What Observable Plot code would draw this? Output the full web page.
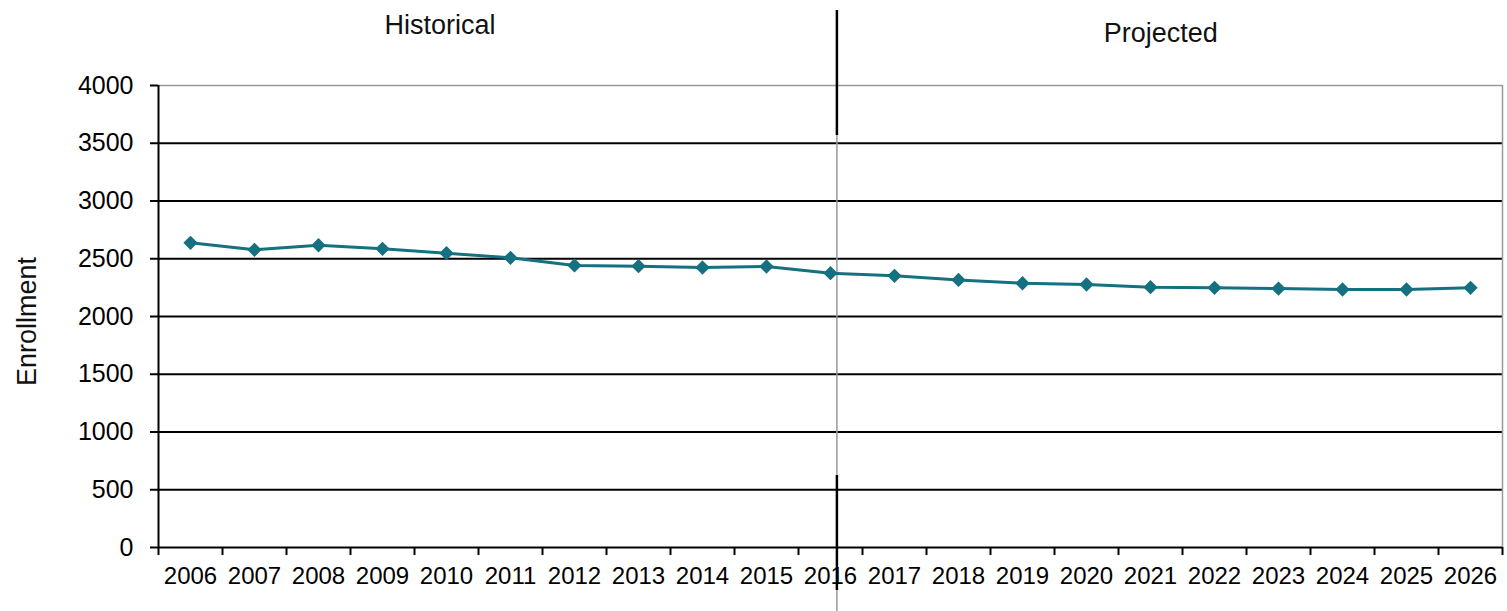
<!DOCTYPE html>
<html>
<head>
<meta charset="utf-8">
<script src="https://cdn.jsdelivr.net/npm/d3@7"></script>
<script src="https://cdn.jsdelivr.net/npm/@observablehq/plot@0.6"></script>
<style>
  html, body { margin: 0; padding: 0; background: #fff; }
  svg { display: block; }
</style>
</head>
<body>
<div id="chart"></div>
<script>
const years = [2006,2007,2008,2009,2010,2011,2012,2013,2014,2015,2016,2017,2018,2019,2020,2021,2022,2023,2024,2025,2026];
const enrollment = [2638,2577,2617,2586,2548,2508,2442,2436,2424,2433,2375,2352,2317,2288,2277,2254,2248,2242,2234,2234,2248];
const yTicks = [0,500,1000,1500,2000,2500,3000,3500,4000];
const gridValues = [500,1000,1500,2000,2500,3000,3500];
const sectionLabels = [
  {text: "Historical", x: 2009.9, y: 4520},
  {text: "Projected", x: 2021.16, y: 4450}
];
const dividerYear = 2016.1;
const dividerBlack = [{y1: 3567, y2: 4649}, {y1: -372, y2: 623}];
const dividerGrey = [{y1: -560, y2: 4649}];

const data = years.map((y, i) => ({year: y, value: enrollment[i]}));
const xDomain = [years[0] - 0.5, years[years.length - 1] + 0.5];
const boundaries = d3.range(years[0] - 0.5, years[years.length - 1] + 1, 1);

const teal = "#15717f";

const chart = Plot.plot({
  width: 1507,
  height: 611,
  marginLeft: 158,
  marginRight: 5,
  marginTop: 85,
  marginBottom: 64,
  style: {fontFamily: "'Liberation Sans', Arial, sans-serif", background: "#fff", color: "#000"},
  x: {type: "linear", domain: xDomain},
  y: {domain: [0, 4000]},
  marks: [
    Plot.ruleY(gridValues, {stroke: "#000", strokeWidth: 2}),
    Plot.ruleY([4000], {stroke: "#999", strokeWidth: 1.5}),
    Plot.ruleX([xDomain[1]], {y1: 0, y2: 4000, stroke: "#999", strokeWidth: 1.5}),
    Plot.ruleX(dividerGrey, {x: () => dividerYear, y1: "y1", y2: "y2", stroke: "#999", strokeWidth: 1.5}),
    Plot.ruleX(dividerBlack, {x: () => dividerYear, y1: "y1", y2: "y2", stroke: "#000", strokeWidth: 2.5}),
    Plot.axisY({ticks: yTicks, tickSize: 8, tickPadding: 17, fontSize: 25, tickFormat: d => String(d), label: null, stroke: "#000", strokeWidth: 2}),
    Plot.axisX({ticks: boundaries, tickSize: 8, tickFormat: () => "", label: null, strokeWidth: 2}),
    Plot.axisX({ticks: years, tickSize: 0, tickPadding: 19, fontSize: 24, tickFormat: d => String(d), label: null}),
    Plot.ruleX([xDomain[0]], {y1: 0, y2: 4000, stroke: "#000", strokeWidth: 2}),
    Plot.ruleY([0], {stroke: "#000", strokeWidth: 2}),
    Plot.line(data, {x: "year", y: "value", stroke: teal, strokeWidth: 3}),
    Plot.dot(data, {x: "year", y: "value", symbol: "diamond2", r: 5.5, fill: teal, stroke: teal}),
    Plot.text(sectionLabels, {x: "x", y: "y", text: "text", fontSize: 27, fill: "#111"}),
    Plot.text(["Enrollment"], {frameAnchor: "left", textAnchor: "middle", dx: -131, dy: 5, rotate: -90, fontSize: 27, fill: "#111"})
  ]
});
document.getElementById("chart").appendChild(chart);
</script>
</body>
</html>
